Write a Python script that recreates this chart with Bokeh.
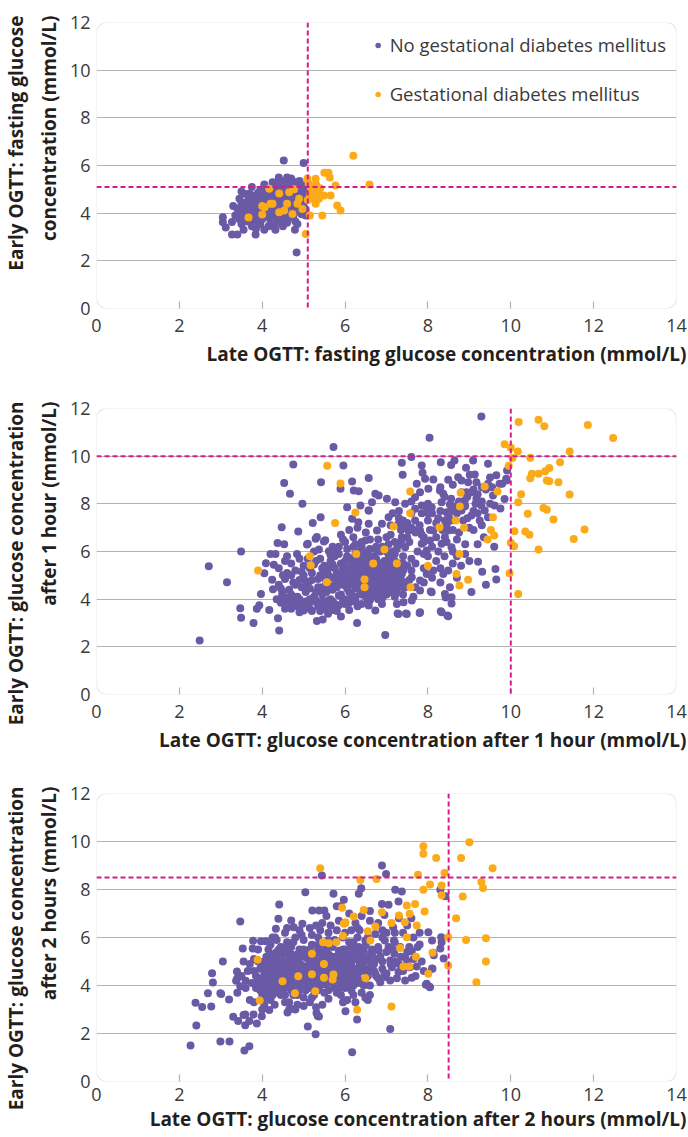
from bokeh.plotting import figure
from bokeh.models import Range1d, FixedTicker, Span, BoxAnnotation, Title, Legend, LegendItem
from bokeh.layouts import column
from bokeh.embed import file_html
from bokeh.resources import INLINE

# ---------------- data ----------------
x_ticks = [0, 2, 4, 6, 8, 10, 12, 14]
y_ticks = [0, 2, 4, 6, 8, 10, 12]
thresholds = [5.1, 10.0, 8.5]
legend_labels = ["No gestational diabetes mellitus", "Gestational diabetes mellitus"]

x_titles = ["Late OGTT: fasting glucose concentration (mmol/L)",
            "Late OGTT: glucose concentration after 1 hour (mmol/L)",
            "Late OGTT: glucose concentration after 2 hours (mmol/L)"]
y_titles_1 = ["Early OGTT: fasting glucose",
              "Early OGTT: glucose concentration",
              "Early OGTT: glucose concentration"]
y_titles_2 = ["concentration (mmol/L)",
              "after 1 hour (mmol/L)",
              "after 2 hours (mmol/L)"]

# Panel 1: fasting
p1_no = [(4.52,6.21),(5.0,6.1),(4.83,2.35),(3.27,3.1),(3.4,3.1),(3.84,3.1),(3.05,3.83),(3.05,3.62),
         (3.12,3.4),(3.27,3.63),(3.5,4.91),(3.7,4.81),(4.3,3.4),(4.32,3.3),(4.79,3.3),(4.85,3.55),
         (4.4,5.5),(4.6,5.5),(4.4,5.3),(4.81,5.3),(4.98,5.16),
         (3.35,3.9),(3.4,4.2),(3.45,3.75),(3.5,4.05),(3.55,4.35),(3.6,3.85),(3.6,4.15),(3.65,4.5),
         (3.7,3.95),(3.7,4.3),(3.75,4.6),(3.8,3.7),(3.8,4.05),(3.85,4.4),(3.85,4.75),(3.9,3.9),
         (3.9,4.2),(3.95,4.55),(4.0,3.75),(4.0,4.05),(4.0,4.4),(4.05,4.7),(4.1,3.9),(4.1,4.25),
         (4.1,4.55),(4.15,5.0),(4.2,3.65),(4.2,4.0),(4.2,4.35),(4.25,4.65),(4.3,4.9),(4.3,3.85),
         (4.3,4.2),(4.35,4.5),(4.4,4.05),(4.4,4.8),(4.45,3.7),(4.45,4.35),(4.5,4.6),(4.5,5.05),
         (4.55,3.95),(4.55,4.25),(4.6,4.85),(4.6,3.6),(4.65,4.45),(4.7,4.1),(4.7,5.2),(4.75,4.65),
         (4.75,3.85),(4.8,4.35),(4.85,4.95),(4.85,4.1),(4.9,4.55),(4.95,3.95),(4.95,4.75),(5.0,4.3),
         (5.0,5.0),(3.5,3.55),(3.75,3.45),(3.95,3.55),(4.15,3.45),(4.35,3.6),(4.6,4.0),(4.05,5.2),
         (4.25,5.3),(4.55,5.35),(4.7,5.45),(4.9,5.35),(3.3,4.3),(3.45,4.6),(3.6,4.8),(3.75,5.1),
         (3.9,4.85),(4.15,4.8),(4.35,5.15),(4.65,5.1),(5.05,4.6),(5.05,3.9),(3.95,4.95),(4.45,5.0),
         (4.8,3.65),(3.55,3.3),(3.65,3.65),(3.85,3.35),(4.05,3.3),(4.25,3.55),(4.5,3.45),(4.65,3.8),
         (3.4,3.95),(3.5,4.45),(3.55,3.7),(3.65,4.05),(3.7,4.65),(3.75,3.8),(3.8,4.25),(3.85,4.55),
         (3.9,3.65),(3.95,4.1),(4.0,4.6),(4.05,3.85),(4.05,4.45),(4.1,4.85),(4.15,4.1),(4.2,4.55),
         (4.25,3.8),(4.25,4.95),(4.3,4.35),(4.35,4.7),(4.35,3.95),(4.4,4.55),(4.45,4.15),(4.5,4.85),
         (4.5,3.85),(4.55,4.45),(4.6,4.7),(4.65,4.2),(4.7,4.9),(4.75,4.45),(4.8,4.05),(4.85,4.75),
         (4.9,4.2),(4.9,5.1),(4.95,4.45),(5.0,4.85),(5.05,4.15),(4.6,5.2),(4.3,5.05),(4.0,5.0)]
p1_gdm = [(3.67,3.82),(4.0,3.94),(4.0,4.3),(4.17,5.02),(4.2,4.4),(4.41,4.82),(4.6,4.4),(4.65,4.88),
          (4.73,3.97),(4.77,5.0),(4.89,4.6),(4.85,4.39),(4.25,4.39),(4.41,4.04),(4.53,4.11),(4.06,4.25),
          (4.97,4.18),(5.09,5.45),(5.15,3.9),(5.45,3.9),(5.05,3.13),(5.5,5.7),(5.6,5.7),(5.63,5.5),
          (5.77,5.16),(5.65,4.74),(5.81,4.32),(5.89,4.11),(5.29,4.4),(5.37,4.6),(5.29,5.44),(5.17,4.88),
          (5.2,5.1),(5.25,4.95),(5.3,5.2),(5.35,4.9),(5.15,4.7),(5.4,5.05),(5.49,4.74),(5.1,4.55),
          (6.2,6.41),(6.59,5.2),(5.12,5.25),(5.22,4.6),(5.32,4.75)]

# Panel 2: 1 hour
p2_no = [(2.49,2.27),(2.71,5.38),(3.15,4.71),(3.49,6.0),(3.47,3.62),(3.49,3.22),(3.79,3.0),(3.87,3.6),
         (3.93,3.75),(3.97,4.22),(4.05,5.09),(4.09,5.51),(4.2,5.9),(4.17,3.55),(4.41,2.69),(4.38,3.2),
         (4.47,7.02),(4.53,8.87),(4.67,8.42),(4.75,9.65),(4.97,8.0),(4.87,6.84),(5.41,7.44),(5.42,8.91),
         (5.72,10.38),(5.96,9.61),(5.22,7.2),(5.32,6.61),(5.52,6.47),(5.1,6.33),(4.84,5.9),(4.53,6.3),
         (4.32,5.9),(4.28,5.44),(4.24,4.81),(4.26,4.42),(4.48,4.22),(4.6,3.8),(4.72,3.8),(4.88,3.66),
         (5.0,3.52),(5.32,3.08),(5.46,3.15),(5.59,3.39),(5.7,3.55),(5.9,3.27),(5.89,8.63),(6.17,8.94),
         (6.21,8.56),(6.33,8.53),(6.57,9.08),(6.05,7.86),(6.17,7.37),(6.37,7.93),(6.57,7.72),(6.32,7.23),
         (5.29,6.53),(5.49,6.42),(5.61,6.01),(5.37,6.08),(5.08,6.29),(4.37,6.36),
         (4.35,4.0),(4.5,3.95),(4.65,3.9),(4.8,3.85),(4.95,3.85),(5.1,3.8),(5.25,3.9),(5.4,3.8),
         (5.55,3.85),(5.7,3.9),(5.85,3.75),(6.0,3.8),(4.55,3.6),(4.9,3.45),(5.2,3.5),(5.5,3.6),
         (5.8,3.5),(6.1,3.55),
         (4.4,4.6),(4.5,5.0),(4.55,5.6),(4.6,5.8),(4.7,5.5),(4.75,4.7),(4.8,5.2),(4.9,5.7),(4.95,4.5),
         (5.0,5.0),(5.05,4.3),(5.15,5.3),(5.2,4.8),(5.25,4.1),(5.3,5.6),(5.35,4.5),(5.4,5.0),(5.45,4.2),
         (5.5,5.4),(5.55,4.7),(4.4,5.3),(4.65,4.4),(4.85,4.1),(5.1,4.6),(5.3,4.3),
         (5.6,5.0),(5.65,5.6),(5.7,4.4),(5.7,6.2),(5.75,5.3),(5.8,4.8),(5.85,5.9),(5.9,4.2),(5.9,5.5),
         (5.95,6.5),(6.0,4.6),(6.0,5.1),(6.05,5.8),(6.1,4.3),(6.1,6.9),(6.15,5.4),(6.2,4.9),(6.2,6.2),
         (6.25,4.5),(6.3,5.7),(6.3,7.0),(6.35,5.1),(6.4,4.2),(6.4,6.4),(6.45,4.7),(6.5,5.5),(6.5,6.8),
         (6.55,5.0),(6.6,4.4),(6.6,6.1),(6.65,5.3),(6.7,4.8),(6.7,5.8),(6.75,4.1),(6.8,5.1),(6.8,6.5),
         (6.85,4.6),(6.9,5.5),(6.95,4.3),(7.0,5.0),(7.0,6.0),(7.05,5.7),(7.1,4.6),(7.1,6.7),(7.15,5.3),
         (7.2,4.1),(7.2,5.9),(7.25,4.8),(7.3,6.3),(7.35,5.2),(7.4,4.5),(7.4,5.8),(7.45,7.0),(7.5,5.4),
         (6.25,5.25),(6.45,5.9),(6.6,5.0),(6.75,5.45),(6.9,4.9),(6.4,4.9),(6.55,4.55),(6.85,5.2),
         (6.65,4.7),(6.95,5.25),(6.3,4.7),(6.15,4.0),(6.5,4.1),(6.8,4.0),(7.0,4.2),(5.95,4.95),
         (6.05,4.45),(6.35,6.0),(6.75,6.2),(7.05,6.3),
         (8.04,10.77),(7.37,9.72),(7.6,9.96),(7.85,9.61),(8.31,9.75),(8.56,9.63),(8.64,9.82),(8.92,9.51),
         (9.09,9.82),(9.45,9.68),(9.91,9.4),(9.89,9.05),(7.39,9.22),(7.87,9.3),(7.93,9.05),(8.13,9.02),
         (8.49,9.01),(8.73,9.12),(8.81,8.98),(9.01,9.22),(9.13,9.23),(8.97,8.91),(9.17,8.91),(9.45,8.84),
         (9.73,8.84),(7.73,8.84),(7.81,8.49),(7.69,8.28),(8.01,8.63),(8.29,8.56),(8.37,8.42),(8.56,8.21),
         (8.81,8.49),(8.93,8.49),(9.05,8.49),(8.89,8.14),(9.17,8.21),(9.57,8.35),(9.61,7.93),(9.29,7.93),
         (9.37,7.72),(9.45,7.44),(9.25,7.3),(9.05,7.51),(8.81,7.72),(8.45,7.65),(8.53,7.97),(8.33,8.07),
         (8.09,7.86),(7.97,7.86),(7.85,7.93),(7.69,7.79),(7.45,8.0),(7.21,8.07),(7.01,8.21),(6.73,8.42),
         (6.81,8.35),(6.65,8.07),
         (8.41,7.3),(8.57,7.3),(8.49,6.88),(8.41,6.6),(8.57,6.18),(8.33,6.32),(8.13,6.88),(8.05,6.46),
         (7.97,6.04),(7.85,6.32),(7.81,6.88),(7.69,7.3),(7.53,6.88),(7.37,6.6),(7.45,6.18),(7.29,7.16),
         (7.05,7.44),(6.89,7.16),(6.77,6.88),(6.57,7.72),(6.57,7.16),(6.49,6.46),(6.53,5.9),(6.77,6.04),
         (6.85,5.34),(7.05,5.06),(7.37,5.06),(7.61,4.92),(7.81,4.78),(7.97,5.06),(8.13,5.2),(8.37,5.06),
         (8.49,5.2),(8.53,4.5),(8.41,4.22),(8.57,4.08),(8.33,3.45),(8.47,3.31),(8.09,4.29),(7.81,4.36),
         (7.61,3.94),(7.41,3.87),(7.21,4.22),(7.29,3.38),(7.49,3.38),(7.81,3.45),(7.45,4.5),(7.29,4.64),
         (7.05,4.5),(6.89,3.8),(6.73,3.52),(6.57,3.73),(6.53,4.08),
         (6.97,2.5),(6.29,3.0),(7.27,3.4),(7.47,3.4),(7.8,3.42),(8.31,3.49),(8.49,3.28),(8.57,3.82),
         (8.43,4.07),(8.07,4.32),(9.21,5.57),(9.31,5.15),(9.63,5.27),(9.65,4.82),(9.29,11.66),(9.9,8.98),
         (9.79,8.84),(8.7,6.5),(8.9,6.3),(9.1,6.9),(9.3,7.1),(9.0,5.6),(8.8,5.4),(9.2,6.3),(9.6,6.2),
         (9.4,4.6),(9.75,7.8),(9.85,8.2),(9.5,8.0),(8.95,7.4),(8.7,4.9),(9.05,4.3),(8.2,5.6),(8.0,5.8),
         (7.7,5.5),(7.9,4.7),(7.6,5.2),(7.75,6.0),(8.3,4.7),(8.6,5.5),(7.9,6.6),(8.25,6.0),(8.7,7.6),(9.2,8.4),
         (4.45,3.85),(4.6,4.05),(4.75,3.95),(4.9,4.0),(5.05,3.9),(5.15,4.0),(5.3,3.95),(5.45,3.9),
         (5.6,3.95),(5.75,3.8),(5.95,3.95),(6.1,3.85),(6.25,3.9),(6.4,3.8),(6.55,3.9),(5.0,3.7),
         (5.35,3.7),(5.65,3.7),
         (5.55,4.3),(5.6,5.3),(5.65,4.0),(5.7,4.9),(5.75,5.8),(5.8,4.5),(5.8,5.1),(5.85,4.15),(5.85,6.2),
         (5.9,4.8),(5.95,5.3),(6.0,4.0),(6.0,5.6),(6.05,4.8),(6.05,6.1),(6.1,5.0),(6.1,4.6),(6.15,5.7),
         (6.15,4.25),(6.2,5.1),(6.2,4.7),(6.25,5.9),(6.25,4.1),(6.3,5.4),(6.3,4.45),(6.35,4.9),(6.35,5.7),
         (6.4,4.6),(6.4,5.3),(6.45,4.3),(6.45,5.1),(6.5,4.8),(6.5,5.2),(6.55,4.3),(6.55,5.7),(6.6,4.7),
         (6.6,5.4),(6.65,4.2),(6.65,5.0),(6.7,4.5),(6.7,5.2),(6.75,4.9),(6.75,5.7),(6.8,4.3),(6.8,5.4),
         (6.85,4.8),(6.85,6.0),(6.9,4.5),(6.9,5.2),(6.95,4.7),(6.95,5.6),(7.0,4.4),(7.0,5.3),(7.05,4.9),
         (7.05,5.9),(7.1,4.3),(7.1,5.1),(7.15,4.75),(7.15,5.6),(7.2,4.5),(7.2,5.3),(7.25,5.0),(7.25,6.1),
         (7.3,4.6),(7.3,5.5),(6.0,6.4),(6.2,6.6),(6.4,6.2),(6.6,6.5),(5.8,6.0),
         (7.0,6.6),(7.1,7.1),(7.2,6.4),(7.3,7.4),(7.35,6.9),(7.5,7.2),(7.55,6.4),(7.6,7.6),(7.7,6.8),
         (7.8,7.1),(7.85,7.6),(7.9,6.4),(8.0,7.3),(8.05,6.9),(8.1,7.6),(8.2,6.6),(8.2,7.2),(8.3,7.7),
         (8.35,6.9),(8.5,7.5),(8.6,6.9),(8.65,7.9),(8.75,6.8),(8.85,7.3),(8.9,7.9),(9.0,7.0),(9.1,7.7),
         (9.15,8.0),(9.3,8.1),(9.4,8.6),(9.55,8.7),(9.65,9.2),(9.2,7.6),(8.4,8.3),(8.0,8.0),(7.6,8.1),
         (7.3,7.7),(7.9,5.9),(8.1,6.2),(8.4,5.8),(8.6,6.0),(7.6,5.7),(7.4,5.5),(7.55,4.8),(7.7,4.5),
         (7.9,5.3),(8.1,4.9),(8.3,5.3),(7.4,4.2),(7.65,4.1),(7.25,3.8),
         (5.0,5.4),(5.1,5.7),(4.9,4.8),(5.2,5.1),(5.4,5.7),(5.45,4.5),(5.25,6.0),(4.7,4.2),(4.6,5.1),(5.55,5.1),
         (4.45,4.45),(4.55,4.85),(4.7,5.0),(4.8,4.6),(4.95,5.15),(5.05,4.75),(5.15,4.45),(5.25,5.45),
         (5.35,4.85),(5.45,5.3),(5.5,4.9),(5.6,4.55),(5.65,5.85),(5.7,5.45),(5.75,4.6),(5.85,5.0),
         (5.95,4.6),(6.05,5.3),(6.1,4.8),(6.2,5.45),(6.25,4.8),(6.3,5.0),(6.35,4.4),(6.4,5.6),(6.45,5.4),
         (6.5,4.5),(6.55,5.3),(6.6,4.9),(6.65,5.6),(6.7,4.3),(6.75,5.0),(6.8,4.7),(6.85,5.5),(6.9,4.2),
         (6.95,5.0),(7.0,4.75),(7.05,5.4),(7.1,4.9),(7.15,4.4),(7.2,5.6),(7.25,4.3),(7.3,5.1),(7.35,4.8),
         (7.4,5.2),(7.45,4.7),(4.5,4.3),(4.7,3.6),(5.15,3.6),(5.4,3.5),(5.75,3.6),(6.3,3.7),(6.6,3.95),
         (6.9,4.05),(5.9,6.7),(6.25,6.3),(6.55,6.0),(6.9,6.2),(7.15,6.0),(7.35,6.4),(7.5,6.6),(7.65,6.9),
         (7.85,6.7),(8.0,7.6),(8.25,7.4),(8.45,7.1),(8.55,7.7),(8.75,8.1),(8.95,8.3),(9.1,8.6),(9.3,8.7),
         (9.5,9.1),(8.3,8.7),(8.6,8.8),(7.6,7.0),(7.4,7.3),(7.15,7.6),(8.45,6.4),(8.7,5.8),(8.9,5.9),(9.35,6.6)]
p2_gdm = [(3.9,5.2),(5.15,5.8),(5.17,5.42),(5.56,4.71),(5.57,9.6),(5.89,8.85),(5.76,7.2),(6.25,7.64),
          (6.27,5.9),(6.47,4.83),(6.47,4.5),(6.68,5.5),(6.95,6.08),(7.17,7.05),(7.25,5.5),(7.57,8.52),
          (7.57,7.6),(7.58,4.5),(8.0,5.4),(8.28,7.02),(8.67,7.3),(8.79,8.46),(8.77,7.89),(8.87,7.0),
          (8.76,5.9),(8.69,5.06),(8.76,4.57),(8.97,4.81),(9.37,8.73),(9.68,8.52),(9.57,7.44),(9.52,6.9),
          (9.6,6.67),(9.44,6.5),(9.85,10.5),(10.0,10.35),(10.17,10.2),(10.04,9.92),(9.95,9.6),(10.19,11.43),
          (10.67,11.53),(10.81,11.26),(11.86,11.31),(12.47,10.76),(11.42,10.2),(10.47,9.93),(11.19,9.75),
          (10.93,9.5),(10.83,9.37),(10.67,9.26),(10.51,9.26),(10.47,9.07),(10.87,8.98),(10.93,8.95),
          (11.15,8.91),(11.42,8.39),(10.25,8.4),(10.18,8.07),(10.79,7.82),(10.87,7.75),(10.41,7.58),
          (11.03,7.34),(10.09,6.85),(10.35,6.84),(10.45,6.7),(11.78,6.92),(11.52,6.52),(10.0,6.37),
          (10.08,6.22),(10.67,6.08),(9.97,5.09),(10.18,4.22)]

# Panel 3: 2 hours
p3_no = [(2.27,1.5),(2.41,2.33),(2.39,3.28),(2.69,3.68),(2.81,4.13),(2.79,4.51),(2.55,3.1),(2.99,1.67),
         (3.21,1.67),(3.05,5.0),(2.99,3.68),(3.2,3.42),(3.3,2.7),(3.42,2.52),(3.37,4.2),(3.47,3.97),
         (3.47,6.67),(3.57,1.29),(3.69,1.47),(3.59,2.34),(3.69,2.52),(3.55,2.77),(3.87,2.42),(3.77,5.54),
         (3.78,5.86),(3.55,5.0),(3.53,5.54),(3.97,5.84),(4.09,5.84),(4.41,7.38),(4.39,6.78),(4.33,6.36),
         (4.31,6.0),(4.7,6.71),(4.76,6.43),(5.04,7.89),(5.21,7.13),(5.37,7.13),(5.5,7.13),(5.44,8.58),
         (5.72,7.82),(5.97,7.57),(5.1,2.29),(5.29,1.97),(5.3,3.09),(5.34,2.73),(3.01,3.65),(2.77,3.13),
         (3.39,4.58),(3.4,4.3),(3.59,2.79),(3.79,2.79),(3.99,2.72),(4.17,2.98),(4.61,2.88),(4.69,3.03),
         (5.31,2.85),(5.37,2.71),(5.89,7.3),(4.97,6.57),
         (6.89,9.0),(6.99,8.65),(7.21,7.99),(7.37,7.92),(7.29,7.5),(6.89,7.4),(7.05,7.36),(6.95,6.94),
         (6.33,7.82),(6.39,8.05),(7.16,6.43),(8.01,6.22),(8.1,5.88),(8.14,5.26),(8.3,5.54),(8.38,5.13),
         (8.1,4.71),(8.32,6.01),(7.8,5.71),(7.61,5.43),(7.45,5.18),(7.56,4.76),(7.73,4.79),(7.61,4.32),
         (7.45,4.21),(7.97,4.07),(8.05,3.93),(7.18,5.88),(7.33,5.6),(7.19,5.32),(7.09,5.04),(7.13,4.76),
         (7.29,4.56),(6.97,4.35),(7.09,4.21),(6.85,4.14),(6.73,4.49),(6.65,4.76),(6.49,5.18),(6.65,5.32),
         (6.81,5.46),(6.96,5.88),(6.73,6.15),(6.49,5.88),(6.33,5.6),(6.01,3.38),(6.01,2.93),(6.29,2.58),
         (6.49,3.49),(6.55,3.4),(7.09,2.19),(6.17,1.22),(7.6,6.8),(7.8,6.2),(7.5,6.5),(8.3,7.99),
         (8.42,7.72),(8.33,5.8),(8.13,5.36),(8.11,4.7),(7.95,4.03),(8.04,3.95),
         (3.85,4.4),(3.9,4.0),(3.95,4.7),(4.0,3.6),(4.0,4.3),(4.05,5.0),(4.1,3.9),(4.1,4.6),(4.15,4.2),
         (4.2,3.4),(4.2,4.9),(4.25,4.5),(4.3,3.8),(4.3,5.3),(4.35,4.1),(4.4,4.7),(4.45,3.6),(4.45,5.6),
         (4.5,4.3),(4.5,5.0),(4.55,3.9),(4.6,4.6),(4.6,5.4),(4.65,3.3),(4.7,4.2),(4.7,5.0),(4.75,5.8),
         (4.8,3.8),(4.8,4.5),(4.85,5.3),(4.9,4.0),(4.9,4.9),(4.95,6.1),(5.0,3.5),(5.0,4.4),(5.0,5.5),
         (5.05,4.7),(5.1,3.9),(5.1,5.1),(5.15,6.4),(5.2,4.2),(5.2,5.7),(5.25,3.6),(5.3,4.6),(5.3,5.3),
         (5.35,6.0),(5.4,4.0),(5.4,5.0),(5.45,6.6),(5.5,3.7),(5.5,4.5),(5.55,5.5),(5.6,4.1),(5.6,6.2),
         (5.65,4.8),(5.7,5.2),(5.75,3.9),(5.75,5.9),(5.8,4.4),(5.85,6.7),(5.9,3.6),(5.9,5.0),(5.95,5.5),
         (6.0,4.2),(6.0,6.2),(6.05,4.7),(6.1,5.3),(6.15,3.8),(6.2,4.5),(6.2,5.8),(6.25,6.6),(6.3,4.1),
         (6.3,5.1),(6.35,4.8),(6.4,3.7),(6.45,5.5),(6.5,4.3),(6.55,6.0),(4.15,5.5),(4.35,5.9),(4.55,6.2),
         (4.65,3.0),(4.85,3.2),(5.15,3.3),(5.45,3.2),(3.75,4.1),(3.65,4.6),(3.6,3.9),(3.7,3.4),(3.8,5.1),
         (4.05,3.2),(4.25,6.0),(4.45,4.0),(4.75,4.3),(4.95,4.6),(5.25,4.9),(5.45,4.3),(5.65,4.5),(5.85,4.2),
         (6.05,3.4),(6.25,3.3),(5.55,6.9),(5.8,7.3),(6.1,7.0),(6.4,6.9),(6.6,7.1),(6.15,6.3),(5.35,5.7),
         (4.7,5.6),(5.95,6.0),(6.35,6.3),(4.1,4.0),(4.4,4.4),(4.6,4.1),(4.9,4.3),(5.2,4.45),(5.5,4.05),
         (5.7,4.6),(4.25,4.8),(4.55,4.75),(4.85,4.7),(5.15,4.85),(5.45,4.75),(5.75,4.95),(6.0,5.0),
         (4.35,5.2),(4.65,5.15),(4.95,5.2),(5.25,5.1),(5.55,5.15),(5.85,5.45),(6.15,5.6),
         (3.9,4.2),(3.95,3.8),(4.0,4.9),(4.05,4.45),(4.1,4.1),(4.1,5.2),(4.15,3.7),(4.15,4.7),(4.2,4.0),
         (4.2,5.0),(4.25,4.3),(4.25,3.6),(4.3,4.6),(4.3,4.95),(4.35,3.9),(4.35,5.4),(4.4,4.2),(4.4,5.0),
         (4.45,4.55),(4.45,3.8),(4.5,4.1),(4.5,5.3),(4.55,4.6),(4.55,3.6),(4.6,4.3),(4.6,4.95),(4.65,4.5),
         (4.65,5.6),(4.7,3.8),(4.7,4.7),(4.75,4.1),(4.75,5.1),(4.8,4.35),(4.8,4.9),(4.85,3.6),(4.85,4.6),
         (4.9,4.15),(4.9,5.5),(4.95,3.9),(4.95,4.85),(5.0,4.2),(5.0,5.2),(5.05,3.8),(5.05,4.5),(5.1,4.3),
         (5.1,4.8),(5.15,4.0),(5.15,5.5),(5.2,4.6),(5.2,3.9),(5.25,4.35),(5.25,5.3),(5.3,4.1),(5.3,5.0),
         (5.35,4.8),(5.35,3.8),(5.4,4.55),(5.4,5.4),(5.45,4.1),(5.45,5.1),(5.5,4.8),(5.5,5.7),(5.55,4.3),
         (5.55,4.95),(5.6,3.8),(5.6,5.3),(5.65,4.3),(5.65,5.0),(5.7,4.7),(5.7,5.6),(5.75,4.2),(5.75,5.1),
         (5.8,4.8),(5.8,3.7),(5.85,4.5),(5.85,5.3),(5.9,4.1),(5.9,4.75),(5.95,5.2),(5.95,4.4),(6.0,4.65),
         (6.0,5.5),(6.05,4.0),(6.05,5.1),(6.1,4.45),(6.1,5.8),(6.15,4.9),(6.15,4.2),(6.2,5.2),(6.2,4.0),
         (6.25,4.7),(6.25,5.5),(6.3,4.4),(6.3,6.0),(6.35,5.0),(6.35,4.2),(6.4,5.3),(6.4,4.6),(6.45,4.0),
         (6.45,5.0),(6.5,4.7),(6.5,5.7),(6.55,4.4),(6.6,5.0),(6.6,4.0),(6.65,5.5),(6.7,4.6),(6.75,5.1),
         (6.8,4.3),(6.85,5.2),(6.9,4.7),(7.0,5.4),(7.0,4.5),(7.05,5.6),(7.2,5.0),(7.25,4.3),(7.35,5.2),
         (7.4,4.6),(7.5,5.0),(7.55,5.6),(7.65,5.1),(7.7,4.4),(7.85,5.0),(7.9,4.6),(7.4,6.2),(7.2,6.2),
         (7.0,6.2),(6.8,6.6),(6.6,6.7),(6.9,6.3),(7.65,6.0),(7.3,6.8),(5.0,5.9),(5.2,6.1),(5.4,6.3),
         (5.6,5.9),(5.8,6.3),(4.8,6.0),(4.6,5.8),(4.4,5.5),(4.2,5.7),(3.9,5.5),(3.7,4.9),(3.5,4.4),
         (3.6,4.2),(3.4,3.7),(3.8,3.3),(4.0,3.0),(4.3,3.2),(4.55,3.3),(4.8,3.0),(5.0,3.15),(5.2,3.5),
         (5.6,3.45),(5.95,3.3),(6.2,3.6),(6.6,3.6),
         (3.8,4.6),(3.85,3.9),(3.9,5.0),(4.0,3.8),(4.0,4.1),(4.05,4.8),(4.1,3.5),(4.15,4.45),(4.2,5.3),
         (4.25,4.1),(4.3,4.4),(4.35,5.0),(4.4,3.7),(4.45,4.85),(4.5,3.9),(4.5,4.7),(4.55,5.5),(4.6,4.45),
         (4.65,4.0),(4.7,5.3),(4.75,3.6),(4.8,4.75),(4.85,5.05),(4.9,3.8),(4.95,4.3),(5.0,4.65),(5.05,5.35),
         (5.1,4.1),(5.15,4.6),(5.2,5.0),(5.25,4.0),(5.3,4.8),(5.35,5.5),(5.4,4.3),(5.45,4.9),(5.5,4.2),
         (5.55,5.3),(5.6,4.65),(5.65,4.15),(5.7,5.0),(5.75,4.4),(5.8,5.2),(5.85,3.9),(5.9,4.6),(5.95,4.9),
         (6.0,3.9),(6.05,5.3),(6.1,4.2),(6.15,4.7),(6.2,4.25),(6.25,5.1),(6.3,4.6),(6.35,5.3),(6.4,4.1),
         (6.45,4.75),(6.5,5.1),(6.55,4.6),(6.6,5.3),(6.7,4.9),(6.75,4.4),(6.8,5.6),(6.9,5.0),(6.95,4.5),
         (7.1,4.9),(7.15,5.5),(7.3,4.9),(4.6,6.4),(4.9,6.3),(5.3,6.5),(5.65,6.5),(6.0,6.6),(6.3,6.4),
         (6.9,6.0),(7.2,5.8),(7.5,5.4),(7.75,5.6)]
p3_gdm = [(5.4,8.89),(3.89,5.07),(3.94,3.38),(4.49,4.18),(4.79,3.68),(4.87,4.39),(5.2,5.32),(5.2,4.47),
          (5.28,3.76),(5.47,5.8),(5.49,4.9),(5.49,4.32),(5.61,5.76),(5.79,5.8),(5.72,4.46),(5.7,4.25),
          (5.93,7.24),(5.97,6.57),(5.95,6.06),(7.89,9.8),(7.89,9.49),(9.0,9.97),(8.2,9.31),(8.8,9.31),
          (9.56,8.89),(8.4,8.69),(7.76,8.61),(8.05,8.21),(7.89,7.99),(8.33,8.17),(8.33,7.76),(9.29,8.31),
          (9.33,8.06),(8.84,7.71),(6.37,8.4),(6.76,8.44),(8.68,6.8),(8.49,6.01),(8.49,4.83),(8.92,5.9),
          (9.4,5.97),(9.4,5.0),(9.17,4.14),(7.49,7.33),(7.69,7.4),(7.56,6.99),(7.92,7.08),(7.73,6.5),
          (7.44,6.64),(7.3,6.92),(7.12,6.6),(6.89,7.05),(6.73,6.46),(6.45,7.15),(6.21,6.87),(6.01,6.64),
          (6.55,6.26),(6.61,5.88),(7.49,6.01),(7.33,5.56),(7.71,5.2),(7.41,4.79),(7.55,4.79),(8.11,5.36),
          (8.01,4.49),(6.49,4.31),(6.29,2.99),(7.12,3.13)]

panels_no = [p1_no, p2_no, p3_no]
panels_gdm = [p1_gdm, p2_gdm, p3_gdm]

# ---------------- style ----------------
PURPLE = "#6a5aa6"
ORANGE = "#fbab19"
MAGENTA = "#d91a8a"
GRID = "#b3b3b3"
FONT = "Open Sans"
TICK_COLOR = "#3a3a3a"
TITLE_COLOR = "#231f20"

# (height, top border, bottom border, tick-label standoff, x-title standoff)
geom = [(380, 22, 72, 10, 8), (384, 28, 70, 10, 8), (373, 29, 56, 6, 1)]

figs = []
for i in range(3):
    h, top, bottom, lab_sd, tit_sd = geom[i]
    p = figure(width=688, height=h, x_range=Range1d(0, 14), y_range=Range1d(0, 12),
               output_backend="svg", toolbar_location=None,
               min_border_left=93, min_border_right=12,
               min_border_top=top, min_border_bottom=bottom)
    p.outline_line_color = None
    p.background_fill_color = "white"

    p.xgrid.grid_line_color = None
    p.ygrid.ticker = FixedTicker(ticks=y_ticks[1:-1])
    p.ygrid.grid_line_color = GRID
    p.ygrid.grid_line_width = 1.2

    xa = p.xaxis[0]
    xa.ticker = FixedTicker(ticks=x_ticks, minor_ticks=x_ticks[1:-1])
    xa.axis_line_color = None
    xa.major_tick_line_color = None
    xa.major_tick_in = 0
    xa.major_tick_out = 0
    xa.minor_tick_line_color = GRID
    xa.minor_tick_line_width = 1.2
    xa.minor_tick_in = 7
    xa.minor_tick_out = 0
    xa.major_label_standoff = lab_sd
    xa.major_label_text_font = FONT
    xa.major_label_text_font_size = "18px"
    xa.major_label_text_color = TICK_COLOR

    ya = p.yaxis[0]
    ya.ticker = FixedTicker(ticks=y_ticks)
    ya.axis_line_color = None
    ya.major_tick_line_color = None
    ya.minor_tick_line_color = None
    ya.major_tick_in = 0
    ya.major_tick_out = 0
    ya.major_label_standoff = 6
    ya.major_label_text_font = FONT
    ya.major_label_text_font_size = "18px"
    ya.major_label_text_color = TICK_COLOR

    p.add_layout(BoxAnnotation(left=0, right=14, bottom=0, top=12, fill_color=None,
                               line_color=GRID, line_width=1.2, border_radius=10,
                               level="underlay"))

    no_pts = panels_no[i]
    gdm_pts = panels_gdm[i]
    r_no = p.scatter([a for a, b in no_pts], [b for a, b in no_pts], size=8,
                     fill_color=PURPLE, line_color=None)
    r_gdm = p.scatter([a for a, b in gdm_pts], [b for a, b in gdm_pts], size=8,
                      fill_color=ORANGE, line_color=None)

    thr = thresholds[i]
    p.add_layout(Span(location=thr, dimension="height", line_color=MAGENTA,
                      line_width=2, line_dash="5 3"))
    p.add_layout(Span(location=thr, dimension="width", line_color=MAGENTA,
                      line_width=2, line_dash="5 3"))

    p.add_layout(Title(text=x_titles[i], align="right", offset=-10, standoff=tit_sd,
                       text_font=FONT, text_font_size="19px", text_font_style="bold",
                       text_color=TITLE_COLOR), "below")
    p.add_layout(Title(text=y_titles_2[i], align="right", offset=-7, standoff=10,
                       text_font=FONT, text_font_size="19px", text_font_style="bold",
                       text_color=TITLE_COLOR), "left")
    p.add_layout(Title(text=y_titles_1[i], align="right", offset=-7, standoff=0,
                       text_font=FONT, text_font_size="19px", text_font_style="bold",
                       text_color=TITLE_COLOR), "left")

    if i == 0:
        leg = Legend(items=[LegendItem(label=legend_labels[0], renderers=[r_no]),
                            LegendItem(label=legend_labels[1], renderers=[r_gdm])],
                     location="top_right", margin=10, padding=5, spacing=24,
                     glyph_width=14, glyph_height=14, label_height=24, label_standoff=5,
                     label_text_font=FONT, label_text_font_size="18.5px",
                     label_text_color=TICK_COLOR, border_line_color=None,
                     background_fill_alpha=0)
        p.add_layout(leg)
    figs.append(p)

layout = column(*figs, spacing=0)
open("out.html", "w").write(file_html(layout, INLINE))
